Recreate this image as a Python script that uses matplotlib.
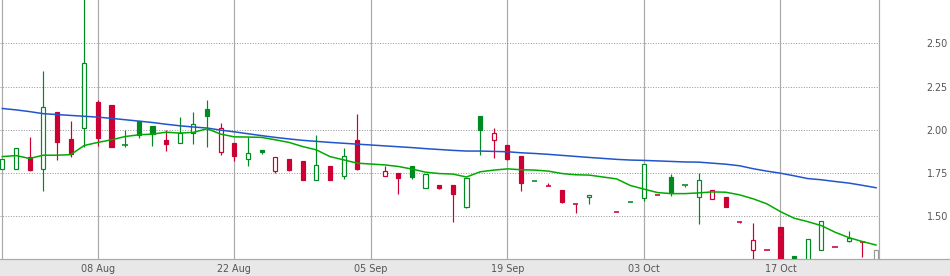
import numpy as np
import matplotlib
matplotlib.use("Agg")
import matplotlib.pyplot as plt
from matplotlib.patches import Rectangle
from matplotlib.lines import Line2D

# trading days shown (weekday axis, 05 Sep and 28 Sep have no candle)
dates = ["2016-07-28", "2016-07-29",
         "2016-08-01", "2016-08-02", "2016-08-03", "2016-08-04", "2016-08-05",
         "2016-08-08", "2016-08-09", "2016-08-10", "2016-08-11", "2016-08-12",
         "2016-08-15", "2016-08-16", "2016-08-17", "2016-08-18", "2016-08-19",
         "2016-08-22", "2016-08-23", "2016-08-24", "2016-08-25", "2016-08-26",
         "2016-08-29", "2016-08-30", "2016-08-31", "2016-09-01", "2016-09-02",
         "2016-09-06", "2016-09-07", "2016-09-08", "2016-09-09",
         "2016-09-12", "2016-09-13", "2016-09-14", "2016-09-15", "2016-09-16",
         "2016-09-19", "2016-09-20", "2016-09-21", "2016-09-22", "2016-09-23",
         "2016-09-26", "2016-09-27", "2016-09-29", "2016-09-30",
         "2016-10-03", "2016-10-04", "2016-10-05", "2016-10-06", "2016-10-07",
         "2016-10-10", "2016-10-11", "2016-10-12", "2016-10-13", "2016-10-14",
         "2016-10-17", "2016-10-18", "2016-10-19", "2016-10-20", "2016-10-21",
         "2016-10-24", "2016-10-25", "2016-10-26"]

opens = [1.773, 1.773, 1.842, 1.773, 2.104, 1.948, 2.010,
         2.162, 2.145, 1.911, 2.052, 2.023,
         1.942, 1.923, 1.981, 2.122, 1.869,
         1.925, 1.830, 1.882, 1.759, 1.830,
         1.819, 1.709, 1.792, 1.730, 1.942,
         1.732, 1.751, 1.792, 1.663,
         1.682, 1.682, 1.553, 2.081, 1.940,
         1.913, 1.846, 1.703, 1.674, 1.653,
         1.570, 1.611, 1.525, 1.582,
         1.608, 1.622, 1.728, 1.680, 1.611,
         1.599, 1.612, 1.466, 1.304, 1.306,
         1.439, 1.271, 1.220, 1.304, 1.321,
         1.358, 1.352, 1.220]
highs = [1.830, 1.894, 1.959, 2.341, 2.104, 2.052, 2.850,
         2.174, 2.145, 2.000, 2.052, 2.023,
         1.996, 2.075, 2.104, 2.174, 2.039,
         1.925, 1.958, 1.882, 1.842, 1.830,
         1.819, 1.971, 1.792, 1.896, 2.093,
         1.788, 1.751, 1.792, 1.745,
         1.682, 1.682, 1.720, 2.081, 2.012,
         1.913, 1.851, 1.703, 1.694, 1.653,
         1.570, 1.622, 1.525, 1.582,
         1.801, 1.622, 1.745, 1.680, 1.749,
         1.651, 1.612, 1.466, 1.459, 1.306,
         1.439, 1.271, 1.369, 1.473, 1.321,
         1.416, 1.352, 1.306]
lows = [1.773, 1.773, 1.759, 1.649, 1.828, 1.845, 1.898,
        1.909, 1.898, 1.898, 1.950, 1.909,
        1.880, 1.923, 1.919, 1.898, 1.857,
        1.817, 1.788, 1.859, 1.749, 1.759,
        1.707, 1.709, 1.707, 1.718, 1.769,
        1.732, 1.630, 1.716, 1.663,
        1.659, 1.469, 1.545, 1.855, 1.834,
        1.826, 1.649, 1.703, 1.674, 1.579,
        1.521, 1.569, 1.525, 1.582,
        1.591, 1.622, 1.620, 1.672, 1.454,
        1.599, 1.556, 1.460, 1.200, 1.306,
        1.180, 1.220, 1.220, 1.304, 1.321,
        1.350, 1.262, 1.220]
closes = [1.830, 1.894, 1.765, 2.131, 1.932, 1.861, 2.386,
          1.955, 1.903, 1.912, 1.967, 1.975,
          1.915, 1.979, 2.033, 2.077, 2.010,
          1.851, 1.865, 1.874, 1.842, 1.765,
          1.711, 1.796, 1.711, 1.848, 1.776,
          1.761, 1.724, 1.728, 1.745,
          1.666, 1.626, 1.720, 1.996, 1.981,
          1.832, 1.695, 1.703, 1.674, 1.585,
          1.570, 1.622, 1.525, 1.582,
          1.801, 1.622, 1.637, 1.680, 1.709,
          1.651, 1.556, 1.466, 1.363, 1.306,
          1.200, 1.230, 1.369, 1.473, 1.321,
          1.373, 1.352, 1.306]

ma_short = [1.845, 1.851, 1.834, 1.853, 1.853, 1.856, 1.909,
            1.927, 1.942, 1.961, 1.971, 1.975,
            1.986, 1.981, 1.985, 2.006, 1.975,
            1.959, 1.958, 1.956, 1.942, 1.927,
            1.903, 1.884, 1.845, 1.826, 1.807,
            1.797, 1.788, 1.773, 1.755,
            1.747, 1.744, 1.727, 1.757, 1.767,
            1.774, 1.769, 1.767, 1.761, 1.747,
            1.740, 1.738, 1.716, 1.678,
            1.657, 1.637, 1.631, 1.631, 1.635,
            1.641, 1.639, 1.624, 1.601, 1.572,
            1.527, 1.489, 1.469, 1.446, 1.408,
            1.377, 1.354, 1.334]
ma_long = [2.123, 2.115, 2.105, 2.093, 2.088, 2.083, 2.078,
           2.073, 2.066, 2.058, 2.050, 2.042,
           2.032, 2.023, 2.016, 2.010, 1.998,
           1.988, 1.977, 1.966, 1.956, 1.947,
           1.939, 1.933, 1.927, 1.922, 1.917,
           1.907, 1.902, 1.897, 1.891,
           1.886, 1.881, 1.877, 1.877, 1.875,
           1.873, 1.867, 1.863, 1.858, 1.852,
           1.846, 1.840, 1.829, 1.825,
           1.823, 1.820, 1.817, 1.814, 1.813,
           1.807, 1.801, 1.792, 1.775, 1.761,
           1.749, 1.734, 1.718, 1.711, 1.701,
           1.692, 1.679, 1.665]

tick_dates = ["2016-08-08", "2016-08-22", "2016-09-05", "2016-09-19", "2016-10-03", "2016-10-17"]
tick_labels = ["08 Aug", "22 Aug", "05 Sep", "19 Sep", "03 Oct", "17 Oct"]
price_ticks = [1.50, 1.75, 2.00, 2.25, 2.50]

RED = "#cc0033"
GREEN = "#008a22"
GREY = "#999999"
LINE_GREY = "#aaaaaa"
TXT = "#555555"
px = 0.72  # one pixel in points

start = dates[0]
x = np.busday_count(start, dates).astype(float)
xt = np.busday_count(start, tick_dates).astype(float)
o = np.array(opens); h = np.array(highs); l = np.array(lows); c = np.array(closes)
prev = np.r_[c[0] - 1, c[:-1]]

fig = plt.figure(figsize=(9.5, 2.76), dpi=100)
fig.patch.set_facecolor("white")
fig.patches.append(Rectangle((0, 0), 1, 16.7 / 276, transform=fig.transFigure,
                             facecolor="#e8e8e8", edgecolor="none", zorder=-2))
fig.add_artist(Line2D([0, 1], [16.7 / 276] * 2, transform=fig.transFigure,
                      color=LINE_GREY, lw=1.2 * px, zorder=-1))

ax = fig.add_axes([0, 16.7 / 276, 879.3 / 950, 259.3 / 276])
ax.set_zorder(1)
ax.patch.set_alpha(0)
ax.set_xlim(-0.169, 64.24)
ax.set_ylim(1.2514, 2.750)
ax.set_axisbelow(True)

for s in ["top", "left", "bottom"]:
    ax.spines[s].set_visible(False)
ax.spines["right"].set_color(LINE_GREY)
ax.spines["right"].set_linewidth(1.2 * px)
ax.axvline(x[0], color=LINE_GREY, lw=1.2 * px, zorder=0.5)

ax.set_xticks(xt)
ax.set_xticklabels(tick_labels)
ax.set_yticks(price_ticks)
ax.set_yticklabels([f"{v:.2f}" for v in price_ticks])
ax.yaxis.tick_right()
ax.tick_params(axis="both", length=0, labelsize=6.9, colors=TXT)
ax.tick_params(axis="y", pad=34)
ax.tick_params(axis="x", pad=3.5)
ax.grid(axis="x", color=LINE_GREY, lw=1.2 * px, ls="-")
ax.grid(axis="y", color="#999999", lw=px, ls=(0, (1, 1.6)))

w = 0.30
for i in range(len(x)):
    if i == len(x) - 1:
        col = GREY
    else:
        col = GREEN if c[i] >= prev[i] else RED
    ax.vlines(x[i], l[i], h[i], color=col, lw=px * 1.2, zorder=2)
    lo, hi = min(o[i], c[i]), max(o[i], c[i])
    if hi - lo < 0.004:
        ax.hlines(o[i], x[i] - w / 2 - 0.05, x[i] + w / 2 + 0.05, color=col,
                  lw=1.6 * px, zorder=3)
    else:
        face = "white" if c[i] > o[i] else col
        ax.bar(x[i], hi - lo, bottom=lo, width=w, facecolor=face,
               edgecolor=col, linewidth=1.2 * px, zorder=3)

ax.plot(x, ma_long, color="#2255cc", lw=1.1, zorder=4)
ax.plot(x, ma_short, color="#00aa00", lw=1.1, zorder=4)

fig.savefig("out.png", dpi=100)
